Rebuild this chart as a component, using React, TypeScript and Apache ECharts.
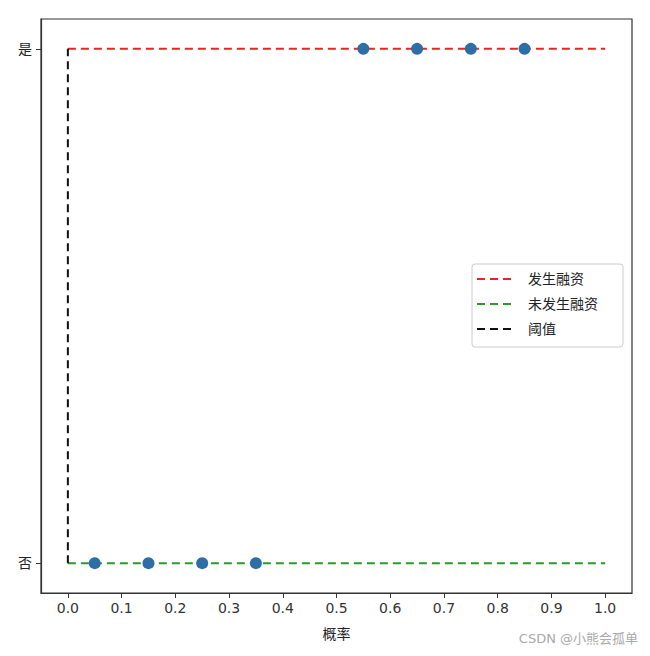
import React, { useEffect, useRef } from "react";
import * as echarts from "echarts";

const xTicks = [0, 0.1, 0.2, 0.3, 0.4, 0.5, 0.6, 0.7, 0.8, 0.9, 1.0];
const yTicks = [0, 1];
const yLabels = ["否", "是"];
const scatterX = [0.05, 0.15, 0.25, 0.35, 0.55, 0.65, 0.75, 0.85];
const scatterY = [0, 0, 0, 0, 1, 1, 1, 1];
const financedLine = [[0, 1], [1, 1]];
const notFinancedLine = [[0, 0], [1, 0]];
const thresholdLine = [[0, 0], [0, 1]];
const seriesNames = ["发生融资", "未发生融资", "阈值"];
const seriesColors = ["#ee2222", "#2a9a2a", "#111111"];

const FONT = "'DejaVu Sans', 'Noto Sans CJK SC', sans-serif";

export default function App() {
  const ref = useRef<HTMLDivElement>(null);
  useEffect(() => {
    if (!ref.current) return;
    const chart = echarts.init(ref.current, undefined, { renderer: "svg" });
    const dash = { type: [8, 5] as any, width: 2 };
    const lx = 472;
    const ly = 264;
    const legendItems: any[] = [
      {
        type: "rect",
        shape: { x: lx, y: ly, width: 151, height: 83, r: 3 },
        style: { fill: "#fff", stroke: "#ccc", lineWidth: 1 },
        z: 10,
      },
    ];
    seriesNames.forEach((name, i) => {
      const y = ly + 15 + i * 25;
      legendItems.push({
        type: "line",
        shape: { x1: lx + 5, y1: y, x2: lx + 41, y2: y },
        style: { stroke: seriesColors[i], lineWidth: 2, lineDash: [8, 5] },
        z: 11,
      });
      legendItems.push({
        type: "text",
        x: lx + 56,
        y: y,
        style: {
          text: name,
          fontFamily: FONT,
          fontSize: 14,
          fill: "#222",
          verticalAlign: "middle",
        },
        z: 11,
      });
    });
    chart.setOption({
      animation: false,
      backgroundColor: "#ffffff",
      grid: {
        left: 41,
        top: 19,
        right: 18,
        bottom: 63,
        show: true,
        borderColor: "#333",
        borderWidth: 1.2,
        backgroundColor: "transparent",
      },
      xAxis: {
        type: "value",
        min: -0.05,
        max: 1.05,
        name: "概率",
        nameLocation: "middle",
        nameGap: 34,
        nameTextStyle: { fontFamily: FONT, fontSize: 14, color: "#222" },
        axisLine: { show: true, onZero: false, lineStyle: { color: "#333", width: 1.2 } },
        splitLine: { show: false },
        axisTick: { show: true, length: 5, customValues: xTicks, lineStyle: { color: "#333" } },
        axisLabel: {
          customValues: xTicks,
          formatter: (v: number) => v.toFixed(1),
          fontFamily: FONT,
          fontSize: 14,
          color: "#333",
          margin: 8,
        },
      },
      yAxis: {
        type: "value",
        min: -0.058,
        max: 1.058,
        axisLine: { show: true, onZero: false, lineStyle: { color: "#333", width: 1.2 } },
        splitLine: { show: false },
        axisTick: { show: true, length: 5, customValues: yTicks, lineStyle: { color: "#333" } },
        axisLabel: {
          customValues: yTicks,
          formatter: (v: number) => yLabels[Math.round(v)] ?? "",
          fontFamily: FONT,
          fontSize: 14,
          color: "#222",
          margin: 9,
        },
      },
      series: [
        {
          name: seriesNames[0],
          type: "line",
          data: financedLine,
          symbol: "none",
          lineStyle: { ...dash, color: seriesColors[0] },
          itemStyle: { color: seriesColors[0] },
          z: 2,
        },
        {
          name: seriesNames[1],
          type: "line",
          data: notFinancedLine,
          symbol: "none",
          lineStyle: { ...dash, color: seriesColors[1] },
          itemStyle: { color: seriesColors[1] },
          z: 2,
        },
        {
          name: seriesNames[2],
          type: "line",
          data: thresholdLine,
          symbol: "none",
          lineStyle: { ...dash, color: seriesColors[2] },
          itemStyle: { color: seriesColors[2] },
          z: 2,
        },
        {
          name: "points",
          type: "scatter",
          data: scatterX.map((x, i) => [x, scatterY[i]]),
          symbol: "circle",
          symbolSize: 12,
          itemStyle: { color: "#2d6ea6", opacity: 1 },
          z: 3,
        },
      ],
      graphic: [
        ...legendItems,
        {
          type: "text",
          right: 12,
          top: 632,
          style: {
            text: "CSDN @小熊会孤单",
            fontFamily: FONT,
            fontSize: 13,
            fill: "#aaa",
          },
        },
      ],
    });
    return () => chart.dispose();
  }, []);
  return (
    <div
      ref={ref}
      style={{ position: "fixed", left: 0, top: 0, width: 650, height: 656 }}
    />
  );
}
